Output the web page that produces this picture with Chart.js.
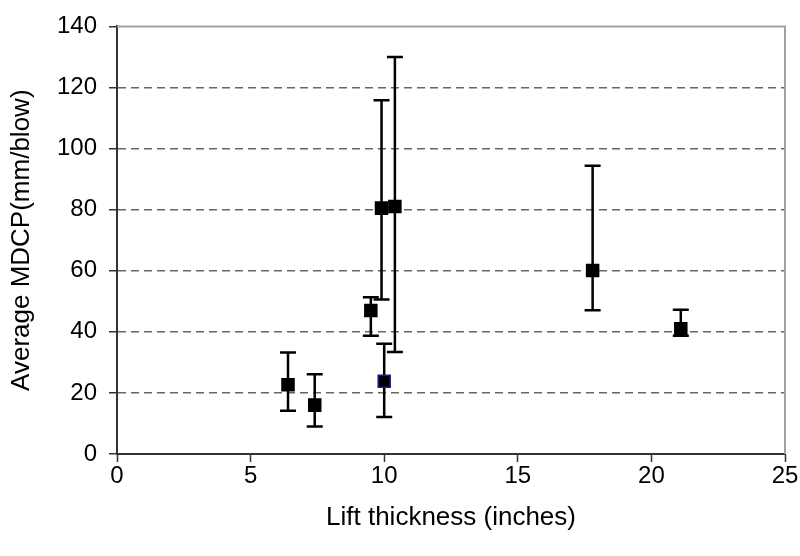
<!DOCTYPE html>
<html>
<head>
<meta charset="utf-8">
<script src="https://cdn.jsdelivr.net/npm/chart.js@4/dist/chart.umd.min.js"></script>
<style>
    html, body { margin: 0; padding: 0; background: #fff; }
    #wrap { width: 800px; height: 556px; }
</style>
</head>
<body>
<div id="wrap"><canvas id="mdcp-chart"></canvas></div>
<script>
var liftThickness = [6.4, 7.4, 9.5, 9.9, 10.4, 10.0, 17.8, 21.1];
var averageMdcp = [22.7, 16.0, 47.0, 80.5, 81.0, 23.8, 60.1, 41.0];
var mdcpHigh = [33.2, 26.1, 51.3, 115.8, 130.0, 36.1, 94.4, 47.2];
var mdcpLow = [14.2, 9.0, 38.7, 50.6, 33.4, 12.1, 47.1, 38.7];
var yTicks = [0, 20, 40, 60, 80, 100, 120, 140];
var xTicks = [0, 5, 10, 15, 20, 25];

var points = liftThickness.map(function(x, i) {
    return { x: x, y: averageMdcp[i], yMin: mdcpLow[i], yMax: mdcpHigh[i] };
});

// one marker has a dark blue outline
var markerBorders = points.map(function(p, i) { return i === 5 ? "#1c1c8c" : "#000"; });

var fontFamily = "'Liberation Sans', Arial, sans-serif";

// vertical whiskers with caps, drawn under the markers
var errorBars = {
    id: "errorBars",
    beforeDatasetsDraw: function(chart) {
        var ctx = chart.ctx;
        var xs = chart.scales.x, ys = chart.scales.y;
        ctx.save();
        ctx.strokeStyle = "#000";
        ctx.lineWidth = 2.5;
        chart.data.datasets[0].data.forEach(function(p) {
            var px = xs.getPixelForValue(p.x);
            var top = ys.getPixelForValue(p.yMax);
            var bottom = ys.getPixelForValue(p.yMin);
            ctx.beginPath();
            ctx.moveTo(px, top);
            ctx.lineTo(px, bottom);
            ctx.moveTo(px - 8, top);
            ctx.lineTo(px + 8, top);
            ctx.moveTo(px - 8, bottom);
            ctx.lineTo(px + 8, bottom);
            ctx.stroke();
        });
        ctx.restore();
    }
};

// grey frame on the top and right of the plot area
var plotFrame = {
    id: "plotFrame",
    beforeDatasetsDraw: function(chart) {
        var a = chart.chartArea, ctx = chart.ctx;
        ctx.save();
        ctx.strokeStyle = "#a0a0a0";
        ctx.lineWidth = 2;
        ctx.beginPath();
        ctx.moveTo(a.left, a.top);
        ctx.lineTo(a.right, a.top);
        ctx.lineTo(a.right, a.bottom);
        ctx.stroke();
        ctx.restore();
    }
};

var context = document.getElementById("mdcp-chart");
window.mdcpChart = new Chart(context, {
    type: "scatter",
    data: {
        datasets: [
            {
                label: "Average MDCP",
                data: points,
                pointStyle: "rect",
                pointRadius: 8.5,
                pointHoverRadius: 8.5,
                pointBackgroundColor: "#000",
                pointBorderColor: markerBorders,
                pointBorderWidth: 1.5
            }
        ]
    },
    options: {
        responsive: true,
        maintainAspectRatio: false,
        animation: false,
        layout: { padding: { top: 18, right: 15, left: 0, bottom: 0 } },
        plugins: {
            legend: { display: false },
            tooltip: { enabled: false }
        },
        scales: {
            x: {
                type: "linear",
                min: 0,
                max: 25,
                afterBuildTicks: function(scale) {
                    scale.ticks = xTicks.map(function(v) { return { value: v }; });
                },
                afterFit: function(scale) { scale.height = 102; },
                ticks: {
                    color: "#000",
                    padding: 0,
                    font: { family: fontFamily, size: 24 }
                },
                grid: {
                    drawOnChartArea: false,
                    tickLength: 8,
                    tickColor: "#333",
                    tickWidth: 1.5
                },
                border: { color: "#333", width: 2 },
                title: {
                    display: true,
                    text: "Lift thickness (inches)",
                    color: "#000",
                    padding: { top: 0, bottom: 23 },
                    font: { family: fontFamily, size: 26 }
                }
            },
            y: {
                type: "linear",
                min: 0,
                max: 140,
                afterBuildTicks: function(scale) {
                    scale.ticks = yTicks.map(function(v) { return { value: v }; });
                },
                afterFit: function(scale) { scale.width = 117; },
                ticks: {
                    color: "#000",
                    padding: 12,
                    font: { family: fontFamily, size: 24 }
                },
                grid: {
                    color: function(c) {
                        var v = c.tick ? c.tick.value : null;
                        return (v === 0 || v === 140) ? "rgba(0,0,0,0)" : "#666";
                    },
                    lineWidth: 1.5,
                    tickLength: 8,
                    tickColor: "#333",
                    tickWidth: 1.5
                },
                border: { color: "#333", width: 2, dash: [8, 5] },
                title: {
                    display: true,
                    text: "Average MDCP(mm/blow)",
                    color: "#000",
                    padding: { top: 6, bottom: 0 },
                    font: { family: fontFamily, size: 26 }
                }
            }
        }
    },
    plugins: [plotFrame, errorBars]
});
</script>
</body>
</html>
